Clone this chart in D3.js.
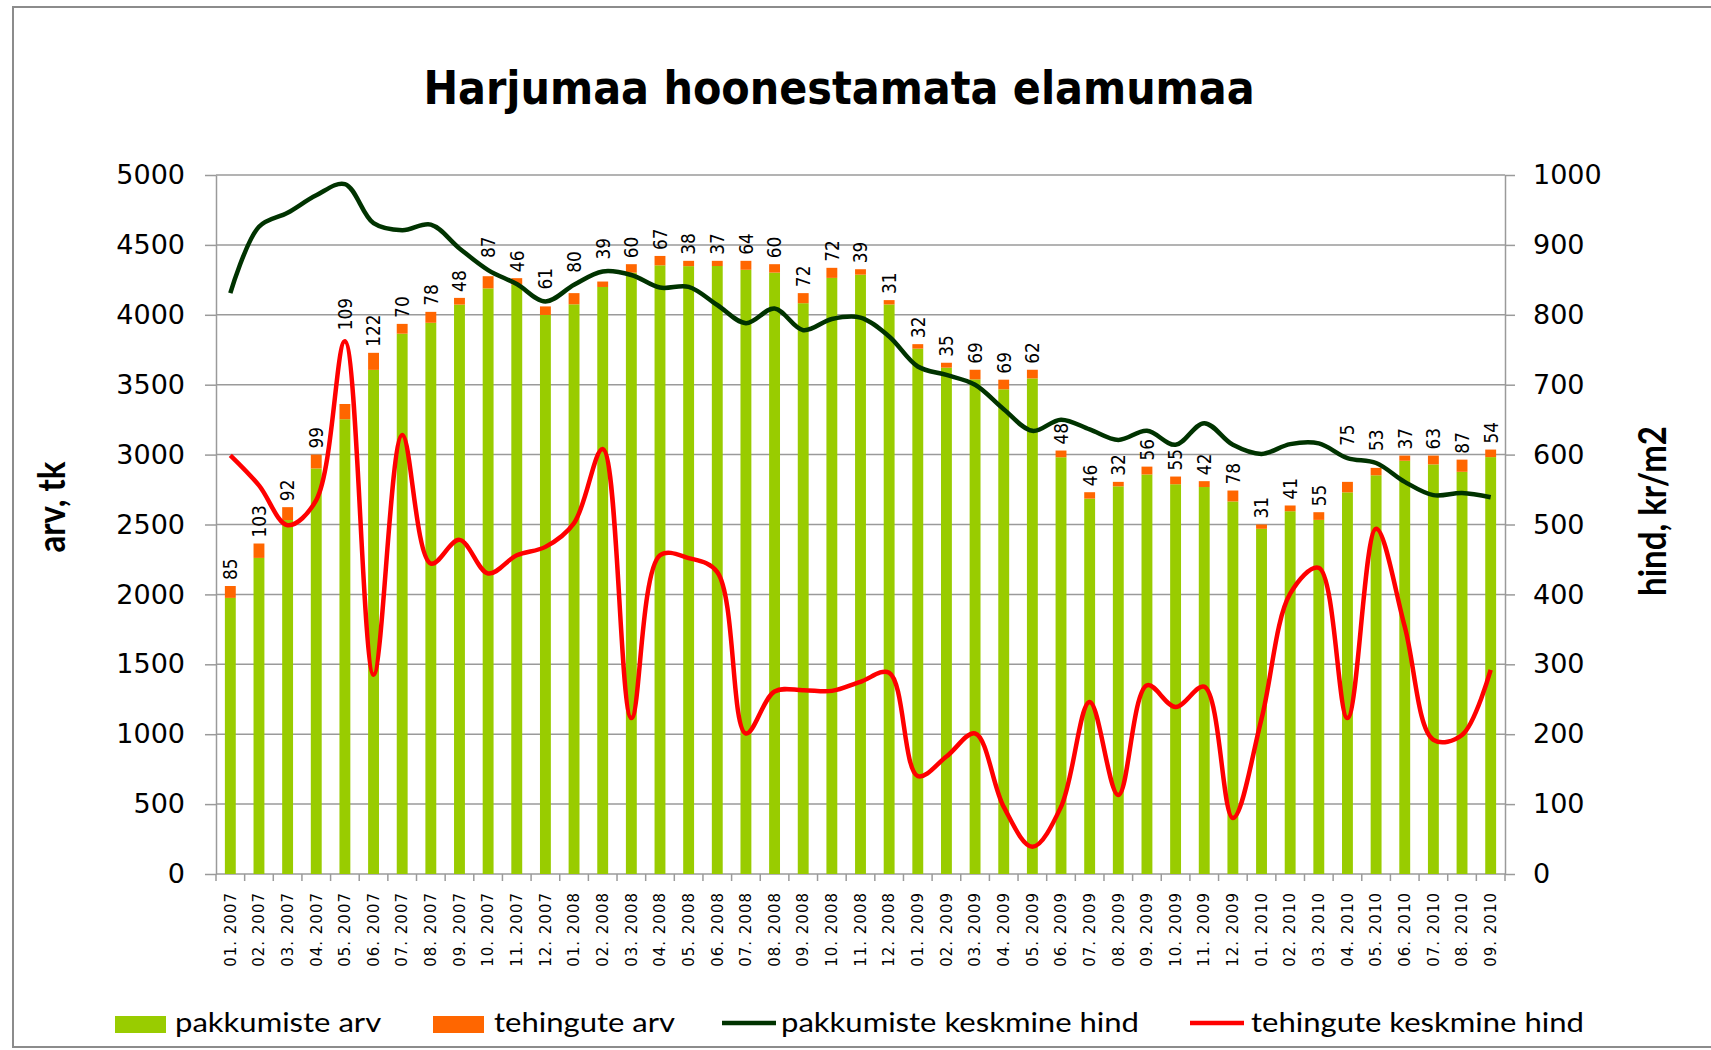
<!DOCTYPE html>
<html>
<head>
<meta charset="utf-8">
<script src="https://cdn.jsdelivr.net/npm/d3@7"></script>
<style>
  body { margin: 0; background: #fff; }
</style>
</head>
<body>
<svg id="chart" width="1711" height="1050"></svg>
<script>
// andmed
var months = ["01. 2007","02. 2007","03. 2007","04. 2007","05. 2007","06. 2007","07. 2007","08. 2007","09. 2007","10. 2007","11. 2007","12. 2007",
  "01. 2008","02. 2008","03. 2008","04. 2008","05. 2008","06. 2008","07. 2008","08. 2008","09. 2008","10. 2008","11. 2008","12. 2008",
  "01. 2009","02. 2009","03. 2009","04. 2009","05. 2009","06. 2009","07. 2009","08. 2009","09. 2009","10. 2009","11. 2009","12. 2009",
  "01. 2010","02. 2010","03. 2010","04. 2010","05. 2010","06. 2010","07. 2010","08. 2010","09. 2010"];

var pakkumisteArv = [1975, 2261, 2532, 2901, 3253, 3606, 3865, 3943, 4073, 4189, 4216, 3999,
  4075, 4199, 4302, 4354, 4348, 4349, 4322, 4302, 4083, 4264, 4287, 4074,
  3758, 3622, 3538, 3467, 3545, 2981, 2685, 2773, 2858, 2788, 2768, 2665,
  2469, 2595, 2533, 2730, 2852, 2956, 2930, 2877, 2982];

var tehinguteArv = [85, 103, 92, 99, 109, 122, 70, 78, 48, 87, 46, 61,
  80, 39, 60, 67, 38, 37, 64, 60, 72, 72, 39, 31,
  32, 35, 69, 69, 62, 48, 46, 32, 56, 55, 42, 78,
  31, 41, 55, 75, 53, 37, 63, 87, 54];

var pakkumisteHind = [831, 926, 946, 971, 987, 931, 921, 929, 895, 864, 844, 819,
  843, 862, 857, 839, 840, 814, 788, 809, 778, 794, 796, 769,
  726, 714, 700, 665, 634, 650, 636, 621, 634, 614, 645, 614,
  601, 615, 616, 595, 588, 561, 542, 545, 539];

var tehinguteHind = [599, 556, 499, 535, 762, 285, 628, 444, 478, 430, 456, 468,
  502, 608, 223, 456, 452, 432, 201, 261, 263, 262, 275, 288,
  140, 168, 201, 96, 39, 96, 246, 113, 270, 239, 268, 80,
  222, 401, 438, 223, 494, 354, 192, 199, 292];

var leftTicks = [0, 500, 1000, 1500, 2000, 2500, 3000, 3500, 4000, 4500, 5000];
var rightTicks = [0, 100, 200, 300, 400, 500, 600, 700, 800, 900, 1000];

var chartTitle = "Harjumaa hoonestamata elamumaa";
var leftTitle = "arv, tk";
var rightTitle = "hind, kr/m2";
var legendLabels = ["pakkumiste arv", "tehingute arv", "pakkumiste keskmine hind", "tehingute keskmine hind"];

var GREEN = "#99cc00", ORANGE = "#ff6600", DARK = "#003300", RED = "#ff0000", GRID = "#9a9a9a";

var svg = d3.select("#chart");

// outer frame
svg.append("rect").attr("x", 13).attr("y", 7).attr("width", 1720).attr("height", 1040)
  .attr("fill", "#fff").attr("stroke", "#8c8c8c").attr("stroke-width", 2);

// scales
var x = d3.scaleBand().domain(months).range([216, 1505]).paddingInner(0.62).paddingOuter(0.31);
var yL = d3.scaleLinear().domain([0, 5000]).range([874, 175]);
var yR = d3.scaleLinear().domain([0, 1000]).range([874, 175]);

// title
svg.append("text")
  .attr("transform", "translate(839,104) scale(0.9,1)")
  .attr("text-anchor", "middle")
  .style("font", "bold 46px 'DejaVu Sans'")
  .text(chartTitle);

// gridlines
svg.append("g").selectAll("line").data(leftTicks).join("line")
  .attr("x1", 216).attr("x2", 1505)
  .attr("y1", function(d) { return yL(d); }).attr("y2", function(d) { return yL(d); })
  .attr("stroke", GRID).attr("stroke-width", 1.5);

// left axis
var gl = svg.append("g").attr("transform", "translate(216,0)")
  .call(d3.axisLeft(yL).tickValues(leftTicks).tickFormat(d3.format("d"))
    .tickSize(11).tickSizeOuter(0).tickPadding(20));
gl.selectAll("line, .domain").attr("stroke", GRID).attr("stroke-width", 1.5);
gl.selectAll("text").style("font", "27px 'DejaVu Sans'").attr("fill", "#000");

// right axis
var gr = svg.append("g").attr("transform", "translate(1505,0)")
  .call(d3.axisRight(yR).tickValues(rightTicks).tickFormat(d3.format("d"))
    .tickSize(10).tickSizeOuter(0).tickPadding(18));
gr.selectAll("line, .domain").attr("stroke", GRID).attr("stroke-width", 1.5);
gr.selectAll("text").style("font", "27px 'DejaVu Sans'").attr("fill", "#000");

// x axis: ticks between categories
var step = x.step();
svg.append("g").selectAll("line").data(d3.range(months.length + 1)).join("line")
  .attr("x1", function(i) { return 216 + i * step; }).attr("x2", function(i) { return 216 + i * step; })
  .attr("y1", 874).attr("y2", 881)
  .attr("stroke", GRID).attr("stroke-width", 1.5);

var gx = svg.append("g").attr("transform", "translate(0,874)")
  .call(d3.axisBottom(x).tickSize(0).tickPadding(0));
gx.select(".domain").remove();
gx.selectAll("text")
  .attr("transform", "rotate(-90)")
  .attr("text-anchor", "end")
  .attr("x", -18).attr("y", 0).attr("dy", "0.35em")
  .style("font", "15px 'DejaVu Sans'")
  .style("letter-spacing", "1px")
  .attr("fill", "#000");

// stacked bars
var bars = svg.append("g");
bars.selectAll(".pak").data(months).join("rect").attr("class", "pak")
  .attr("x", function(d) { return x(d); })
  .attr("width", x.bandwidth())
  .attr("y", function(d, i) { return yL(pakkumisteArv[i]); })
  .attr("height", function(d, i) { return yL(0) - yL(pakkumisteArv[i]); })
  .attr("fill", GREEN);
bars.selectAll(".teh").data(months).join("rect").attr("class", "teh")
  .attr("x", function(d) { return x(d); })
  .attr("width", x.bandwidth())
  .attr("y", function(d, i) { return yL(pakkumisteArv[i] + tehinguteArv[i]); })
  .attr("height", function(d, i) { return yL(pakkumisteArv[i]) - yL(pakkumisteArv[i] + tehinguteArv[i]); })
  .attr("fill", ORANGE);

// lines (smoothed)
var cx = function(i) { return x(months[i]) + x.bandwidth() / 2; };
var line = d3.line()
  .x(function(d, i) { return cx(i); })
  .y(function(d) { return yR(d); })
  .curve(d3.curveCatmullRom.alpha(0.5));

svg.append("path").datum(pakkumisteHind).attr("d", line)
  .attr("fill", "none").attr("stroke", DARK).attr("stroke-width", 4.5).attr("stroke-linejoin", "round");
svg.append("path").datum(tehinguteHind).attr("d", line)
  .attr("fill", "none").attr("stroke", RED).attr("stroke-width", 4.5).attr("stroke-linejoin", "round");

// data labels for tehingute arv
svg.append("g").selectAll("text").data(tehinguteArv).join("text")
  .attr("transform", function(d, i) {
    var top = yL(pakkumisteArv[i] + d);
    var base = top - 6;
    // dark line crossing the foot of the label: put label over the line
    var dy = yR(pakkumisteHind[i]);
    if (dy > top - 30 && dy < top + 5) base = Math.min(base, dy - 12);
    // a red peak standing above the bar pushes the label over it
    var r = tehinguteHind;
    var peak = i > 0 && i < r.length - 1 && r[i] > r[i - 1] && r[i] > r[i + 1];
    if (peak && yR(r[i]) < top) base = yR(r[i]) - 11;
    return "translate(" + cx(i) + "," + base + ") scale(1.15,1) rotate(-90)";
  })
  .attr("dy", "0.35em")
  .style("font", "17px 'DejaVu Sans'")
  .attr("fill", "#000")
  .text(function(d) { return d; });

// axis titles
svg.append("text")
  .attr("transform", "translate(52,507) scale(1.15,1) rotate(-90)")
  .attr("text-anchor", "middle").attr("dy", "0.35em")
  .style("font", "bold 33px Lato")
  .text(leftTitle);
svg.append("text")
  .attr("transform", "translate(1653,511) scale(1.15,1) rotate(-90)")
  .attr("text-anchor", "middle").attr("dy", "0.35em")
  .style("font", "bold 33px Lato")
  .text(rightTitle);

// legend
var lg = svg.append("g");
lg.append("rect").attr("x", 115).attr("y", 1016).attr("width", 51).attr("height", 17).attr("fill", GREEN);
lg.append("rect").attr("x", 433).attr("y", 1016).attr("width", 51).attr("height", 17).attr("fill", ORANGE);
lg.append("line").attr("x1", 722).attr("x2", 776).attr("y1", 1023).attr("y2", 1023)
  .attr("stroke", DARK).attr("stroke-width", 4.5);
lg.append("line").attr("x1", 1190).attr("x2", 1244).attr("y1", 1023).attr("y2", 1023)
  .attr("stroke", RED).attr("stroke-width", 4.5);
var legendX = [175, 494, 781, 1251];
lg.selectAll("text").data(legendLabels).join("text")
  .attr("transform", function(d, i) { return "translate(" + legendX[i] + ",1032) scale(1.15,1)"; })
  .style("font", "27px Lato")
  .attr("fill", "#000")
  .text(function(d) { return d; });
</script>
</body>
</html>
